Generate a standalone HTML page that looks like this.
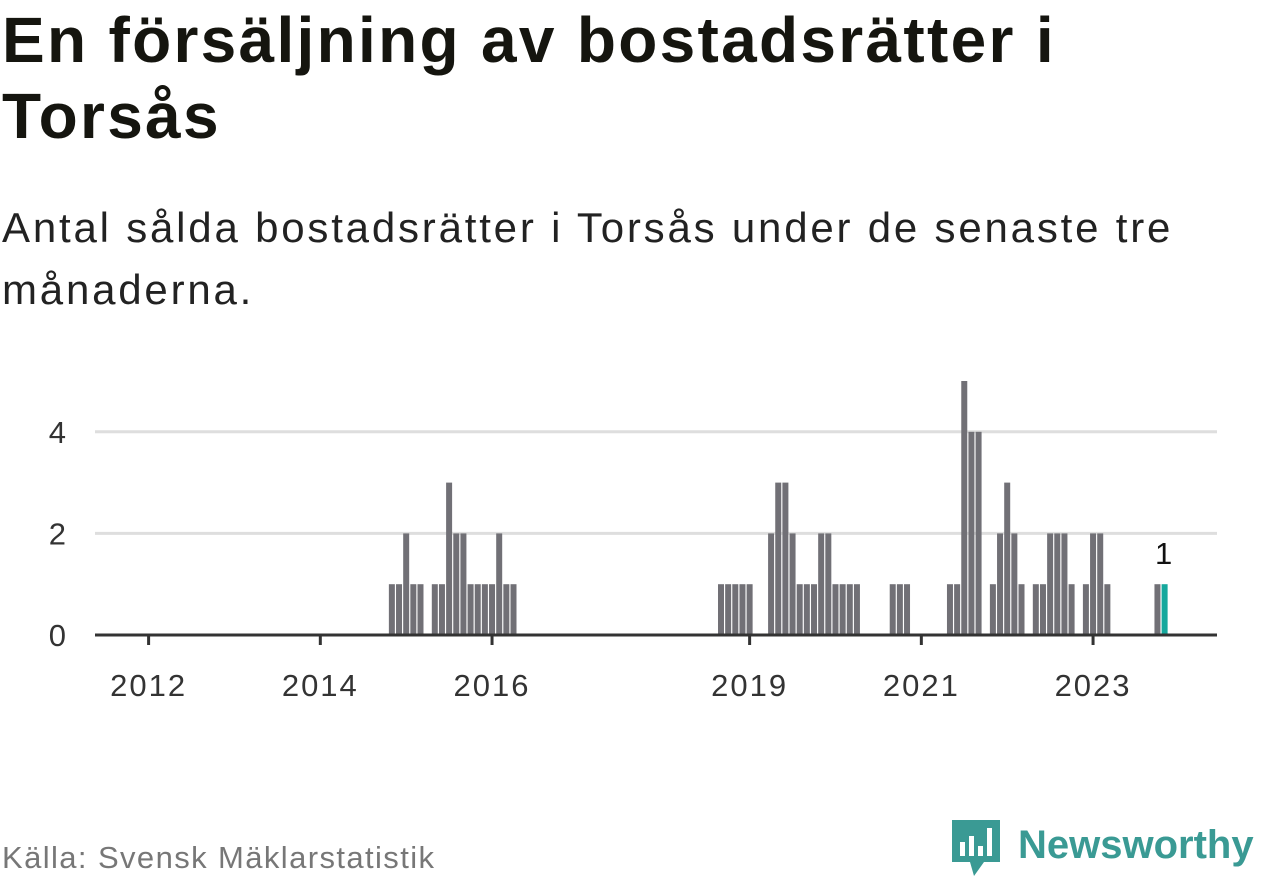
<!DOCTYPE html>
<html><head><meta charset="utf-8"><style>
body{margin:0;width:1262px;height:879px;background:#fff;overflow:hidden;font-family:"Liberation Sans",sans-serif;color:#111}
#title{position:absolute;left:2px;top:2px;font-weight:bold;font-size:64px;line-height:76px;color:#15150f;letter-spacing:2.3px;white-space:nowrap}
#sub{position:absolute;left:2px;top:197px;font-size:42px;line-height:62px;color:#222;letter-spacing:2.8px;white-space:nowrap}
#src{position:absolute;left:2px;top:840px;font-size:31px;color:#777;letter-spacing:1.4px;white-space:nowrap}
#logo{position:absolute;left:952px;top:820px}
</style></head><body>
<div id="title">En försäljning av bostadsrätter i<br>Torsås</div>
<div id="sub">Antal sålda bostadsrätter i Torsås under de senaste tre<br>månaderna.</div>
<svg id="chart" width="1262" height="879" style="position:absolute;left:0;top:0"></svg>
<div id="src">Källa: Svensk Mäklarstatistik</div>
<div id="logo">
<svg width="310" height="60">
<path d="M0 0h48v42h-16l-10 14l-4-14h-18z" fill="#3a9a94"/>
<rect x="8" y="22" width="5" height="14" fill="#fff"/><rect x="17" y="16" width="5" height="20" fill="#fff"/><rect x="26" y="26" width="5" height="10" fill="#fff"/><rect x="35" y="8" width="5" height="28" fill="#fff"/>
<text x="66" y="38" font-family="Liberation Sans, sans-serif" font-weight="bold" font-size="40" fill="#3a9a94">Newsworthy</text>
</svg></div>
<script>
const months=["2014-11","2014-12","2015-01","2015-02","2015-03","2015-05","2015-06","2015-07","2015-08","2015-09","2015-10","2015-11","2015-12","2016-01","2016-02","2016-03","2016-04",
"2018-09","2018-10","2018-11","2018-12","2019-01","2019-04","2019-05","2019-06","2019-07","2019-08","2019-09","2019-10","2019-11","2019-12","2020-01","2020-02","2020-03","2020-04",
"2020-09","2020-10","2020-11","2021-05","2021-06","2021-07","2021-08","2021-09","2021-11","2021-12","2022-01","2022-02","2022-03","2022-05","2022-06","2022-07","2022-08","2022-09","2022-10","2022-12","2023-01","2023-02","2023-03","2023-10","2023-11"];
const values=[1,1,2,1,1,1,1,3,2,2,1,1,1,1,2,1,1,
1,1,1,1,1,2,3,3,2,1,1,1,2,2,1,1,1,1,
1,1,1,1,1,5,4,4,1,2,3,2,1,1,1,2,2,2,1,1,2,2,1,1,1];
const yTicks=[0,2,4];
const xTickYears=[2012,2014,2016,2019,2021,2023];
const NS="http://www.w3.org/2000/svg";
const svg=document.getElementById('chart');
const x0=95,x1=1217,base=635,unit=50.8;
function mIdx(s){const [y,m]=s.split('-').map(Number);return (y-2012)*12+(m-1);}
function xS(i){return 148.6+i*7.155;}
function yS(v){return base-v*unit;}
function el(t,a){const e=document.createElementNS(NS,t);for(const k in a)e.setAttribute(k,a[k]);svg.appendChild(e);return e;}
yTicks.forEach(v=>{
 if(v>0){const g=el('line',{x1:x0,x2:x1,y1:yS(v),y2:yS(v),stroke:'#dedede','stroke-width':3});
 
 }
 const t=el('text',{x:66,y:yS(v)+11,'text-anchor':'end','font-size':31,fill:'#333','font-family':'Liberation Sans, sans-serif'});
 t.textContent=v;
 
 
});
months.forEach((m,i)=>{
 const last=i===months.length-1;
 const r=el('rect',{x:xS(mIdx(m))-3,y:yS(values[i]),width:6,height:values[i]*unit,fill:last?'#16a89d':'#717076'});
 
 
 if(last){const t=el('text',{x:xS(mIdx(m))-1,y:yS(values[i])-20,'text-anchor':'middle','font-size':31,fill:'#111','font-family':'Liberation Sans, sans-serif'});
 t.textContent=values[i];
 
 }
});
const ax=el('line',{x1:x0,x2:x1,y1:base,y2:base,stroke:'#333','stroke-width':3});


xTickYears.forEach(y=>{
 const x=xS((y-2012)*12);
 const tk=el('line',{x1:x,x2:x,y1:base,y2:base+10,stroke:'#333','stroke-width':3});
 
 
 const t=el('text',{x:x,y:696,'text-anchor':'middle','font-size':31,fill:'#333','letter-spacing':2,'font-family':'Liberation Sans, sans-serif'});
 t.textContent=y;
 
 
});
</script>
</body></html>
